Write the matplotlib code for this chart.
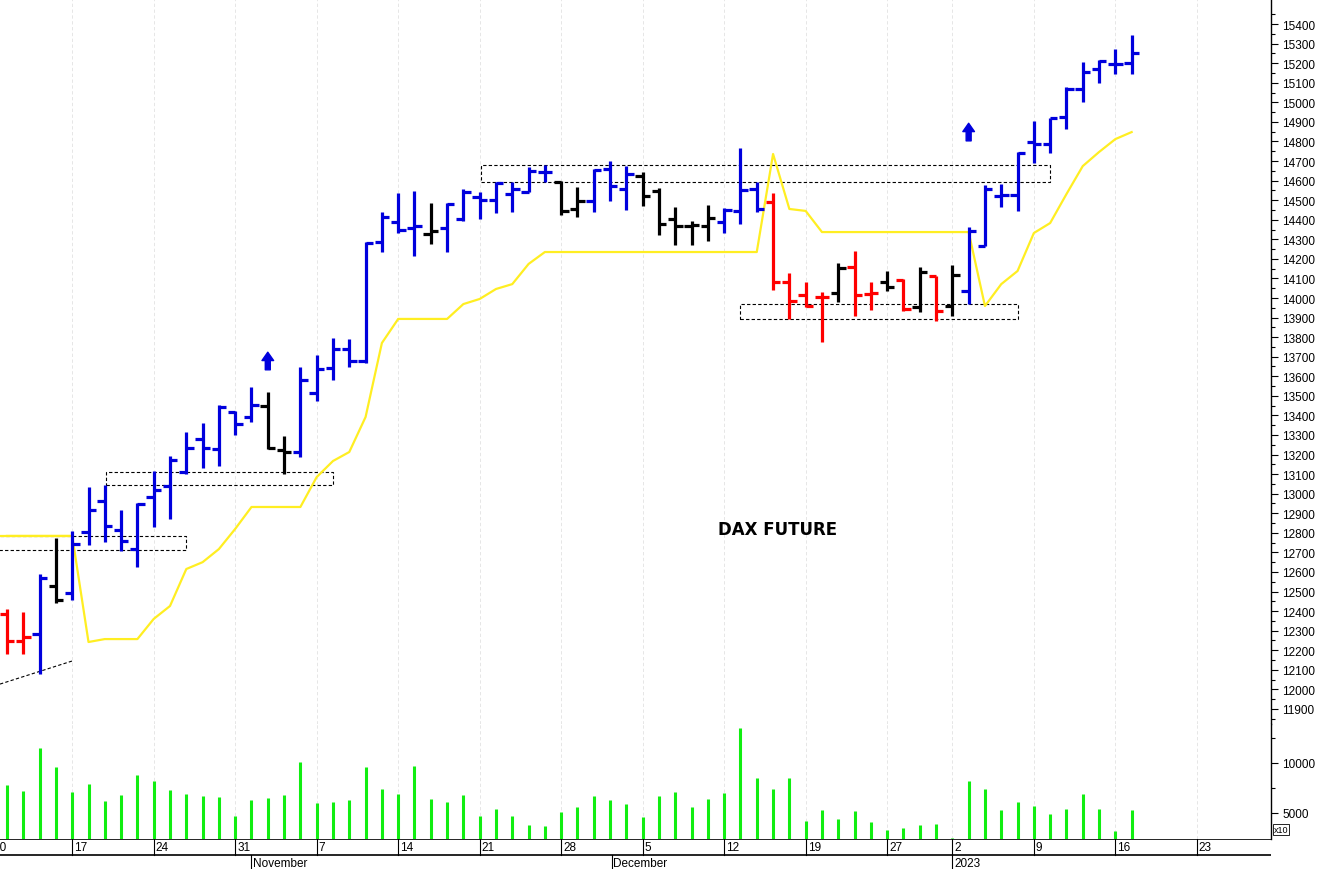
import matplotlib
matplotlib.use("Agg")
import matplotlib.pyplot as plt
import numpy as np

plt.rcParams["font.family"] = ["Liberation Sans", "DejaVu Sans"]

# OHLC por sesión (índice de barra = sesión)
opens = [12385, 12247, 12283, 12528, 12492, 12804, 12962, 12814, 12717, 12983,
         13039, 13110, 13279, 13228, 13417, 13392, 13448, 13223, 13213, 13514,
         13642, 13739, 13678, 14286, 14388, 14358, 14327, 14358, 14404, 14516,
         14501, 14531, 14542, 14644, 14593, 14455, 14496, 14659, 14557, 14623,
         14547, 14404, 14368, 14368, 14388, 14444, 14557, 14490, 14082, 14015,
         14005, 14026, 14158, 14020, 14082, 14092, 13954, 14112, 13959, 14036,
         14266, 14521, 14526, 14797, 14787, 14925, 15068, 15170, 15196, 15201]
highs = [12411, 12395, 12590, 12773, 12809, 13034, 13044, 12917, 12952, 13116,
         13192, 13315, 13361, 13453, 13422, 13545, 13519, 13294, 13647, 13709,
         13795, 13790, 14286, 14439, 14536, 14547, 14485, 14485, 14557, 14541,
         14593, 14593, 14669, 14680, 14598, 14567, 14659, 14700, 14674, 14644,
         14562, 14465, 14393, 14475, 14460, 14766, 14593, 14536, 14128, 14082,
         14031, 14179, 14240, 14082, 14138, 14097, 14158, 14112, 14169, 14363,
         14577, 14582, 14746, 14904, 14920, 15078, 15206, 15216, 15272, 15344]
lows = [12181, 12181, 12078, 12441, 12457, 12738, 12753, 12707, 12625, 12830,
        12870, 13100, 13131, 13141, 13300, 13366, 13228, 13100, 13187, 13474,
        13581, 13647, 13668, 14235, 14332, 14214, 14276, 14235, 14393, 14404,
        14434, 14439, 14542, 14593, 14424, 14414, 14439, 14496, 14450, 14470,
        14322, 14271, 14271, 14291, 14332, 14378, 14439, 14041, 13893, 13954,
        13775, 13979, 13908, 13939, 14036, 13934, 13928, 13882, 13908, 13969,
        14266, 14465, 14444, 14690, 14741, 14863, 15001, 15099, 15145, 15145]
closes = [12247, 12268, 12569, 12457, 12743, 12917, 12835, 12758, 12947, 13019,
          13172, 13233, 13233, 13443, 13356, 13453, 13233, 13213, 13581, 13637,
          13739, 13678, 14281, 14414, 14347, 14368, 14342, 14480, 14541, 14501,
          14588, 14557, 14649, 14644, 14444, 14496, 14654, 14572, 14634, 14521,
          14378, 14368, 14373, 14409, 14450, 14552, 14455, 14082, 13985, 13959,
          14005, 14153, 14015, 14026, 14056, 13944, 14133, 13933, 14118, 14340,
          14557, 14526, 14741, 14787, 14920, 15068, 15155, 15211, 15196, 15252]
# color de tendencia: b=alcista, k=neutral, r=bajista
trend = "rrbkbbbbbbbbbbbbkkbbbbbbbbkbbbbbbbkkbbbkkkkkbbbrrrrkrrkrkrkbbbbbbbbbbb"
stop_line = [12784, 12784, 12784, 12784, 12784, 12242, 12257, 12257, 12257, 12360,
             12426, 12615, 12650, 12717, 12820, 12932, 12932, 12932, 12932, 13085,
             13167, 13213, 13392, 13770, 13893, 13893, 13893, 13893, 13969, 13995,
             14046, 14071, 14174, 14235, 14235, 14235, 14235, 14235, 14235, 14235,
             14235, 14235, 14235, 14235, 14235, 14235, 14235, 14736, 14455, 14445,
             14337, 14337, 14337, 14337, 14337, 14337, 14337, 14337, 14337, 14337,
             13959, 14071, 14138, 14332, 14383, 14531, 14674, 14746, 14812, 14848]
volumes = [7736, 7200, 11509, 9623, 7107, 7925, 6195, 6730, 8774, 8145,
           7264, 6887, 6635, 6604, 4654, 6290, 6478, 6730, 10094, 5943,
           6101, 6290, 9560, 7359, 6887, 9654, 6384, 6101, 6792, 4623,
           5407, 4623, 3742, 3679, 5094, 5534, 6698, 6321, 5911, 4528,
           6698, 7076, 5566, 6384, 6950, 13490, 8522, 7359, 8460, 4151,
           5313, 4371, 5189, 4057, 3302, 3428, 3742, 3836, 2500, 8145,
           7359, 5250, 6101, 5660, 4843, 5407, 6918, 5407, 3208, 5283]

# cajas de soporte/resistencia: (inicio, fin, precio bajo, precio alto)
boxes = [(-0.5, 11.0, 12712, 12784), (6.1, 20.0, 13044, 13110),
         (29.1, 64.0, 14593, 14680), (45.0, 62.0, 13893, 13969)]
arrows = [(16, 13678), (59, 14848)]
day_ticks = [-1, 4, 9, 14, 19, 24, 29, 34, 39, 44, 49, 54, 58, 63, 68, 73]
day_labels = ["10", "17", "24", "31", "7", "14", "21", "28", "5", "12", "19", "27", "2", "9", "16", "23"]
month_ticks = [15, 37.1, 58]
month_labels = ["November", "December", "2023"]

colors = {"b": "#0000dd", "k": "black", "r": "red"}
W, H = 1319, 870
xl = (-0.43, 77.55)
right = 1271 / W

fig = plt.figure(figsize=(W / 100, H / 100), dpi=100)
ax = fig.add_axes([0, (H - 725) / H, right, 725 / H])
axv = fig.add_axes([0, (H - 840) / H, right, 115 / H])
axd = fig.add_axes([0, 0, right, 30 / H])

x = np.arange(len(opens))
ax.plot(x, stop_line, color="#ffee22", lw=1.6, zorder=2)
ax.plot([xl[0], 4], [12784, 12784], color="#ffee22", lw=1.6, zorder=2)
for i in x:
    c = colors[trend[i]]
    ax.vlines(i, lows[i], highs[i], color=c, lw=2.3, zorder=3)
    ax.hlines(opens[i], i - 0.45, i, color=c, lw=2.3, zorder=3)
    ax.hlines(closes[i], i, i + 0.45, color=c, lw=2.3, zorder=3)
for x0, x1, lo, hi in boxes:
    ax.plot([x0, x1, x1, x0, x0], [lo, lo, hi, hi, lo], color="black", lw=0.8,
            ls=(0, (3, 2)), zorder=1)
ax.plot([xl[0], 4], [12027, 12145], color="black", lw=0.8, ls=(0, (3, 2)))
for i, p in arrows:
    ax.annotate("", xy=(i, p + 45), xytext=(i, p - 45),
                arrowprops=dict(arrowstyle="simple,head_width=0.7,head_length=0.5,tail_width=0.3",
                                color="#0000dd", mutation_scale=12, shrinkA=0, shrinkB=0))
ax.text(47.3, 12820, "DAX FUTURE", fontsize=12, fontweight="bold", ha="center", va="center",
        family="DejaVu Sans")

ax.set_xlim(*xl)
ax.set_ylim(11823, 15528)
ax.set_yticks(np.arange(11900, 15401, 100))
ax.set_yticks(np.arange(11850, 15500, 100), minor=True)
ax.yaxis.tick_right()

axv.vlines(x, 0, volumes, color="#11ee11", lw=2.2)
axv.set_xlim(*xl)
axv.set_ylim(2360, 13900)
axv.set_yticks([5000, 10000])
axv.set_yticks([7500, 12500], minor=True)
axv.yaxis.tick_right()
axv.text(1.002, 0.08, "x10", transform=axv.transAxes, fontsize=6.5, va="center",
         bbox=dict(boxstyle="square,pad=0.1", fc="white", ec="black", lw=0.6), clip_on=False)

for a in (ax, axv):
    for s in ("top", "left", "bottom"):
        a.spines[s].set_visible(False)
    a.spines["right"].set_linewidth(1.0)
    a.set_xticks([])
    a.tick_params(axis="y", labelsize=8.5, length=5, width=0.8, pad=3)
    a.tick_params(axis="y", which="minor", length=3, width=0.8)
    for t in day_ticks:
        a.axvline(t, color="#e2e2e2", lw=0.6, ls=(0, (4, 3)), zorder=0)

axd.set_xlim(*xl)
axd.set_ylim(0, 30)
axd.axis("off")
axd.axhline(30, color="black", lw=1.2)
axd.axhline(14, color="black", lw=1.2)
for t, lab in zip(day_ticks, day_labels):
    axd.plot([t, t], [14, 30], color="black", lw=0.8)
    axd.text(t + 0.12, 22, lab, fontsize=8.5, va="center", ha="left", clip_on=True)
for t, lab in zip(month_ticks, month_labels):
    axd.plot([t, t], [0, 14], color="black", lw=0.8)
    axd.text(t + 0.1, 6, lab, fontsize=8.5, va="center", ha="left")

fig.savefig("out.png", dpi=100)
